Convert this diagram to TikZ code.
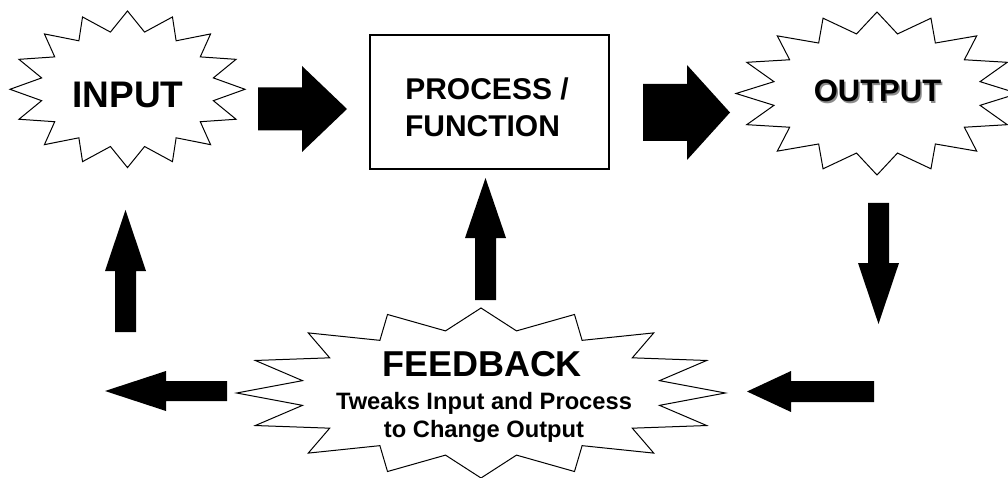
\documentclass[tikz,border=0pt]{standalone}
\usepackage{fontspec}
\setmainfont{Liberation Sans}
\begin{document}
\begin{tikzpicture}[x=1pt,y=-1pt,
  burstline/.style={draw=black,line width=1pt,fill=white,line join=miter},
  boxline/.style={draw=black,line width=1.3pt,fill=white},
  blockfill/.style={fill=black},
  lbl/.style={font=\bfseries,anchor=base,inner sep=0pt,text=black}]
\useasboundingbox (0,0) rectangle (1008,478);
\fill[white] (0,0) rectangle (1008,478);
% starburst: cx cy a b
\newcommand\myburst[4]{%
  \draw[burstline] plot[variable=\k,samples at={0,...,31}]
   ({#1+#3*(1-0.255*mod(\k,2))*cos(90+\k*11.25)},{#2-#4*(1-0.255*mod(\k,2))*sin(90+\k*11.25)}) -- cycle;}
% block arrow: x y rot L H s h
\newcommand\myarrow[7]{%
  \begin{scope}[shift={(#1,#2)},rotate=#3]
   \fill[blockfill] (0,-#6) -- ({#4-#5},-#6) -- ({#4-#5},-#7) -- (#4,0) -- ({#4-#5},#7) -- ({#4-#5},#6) -- (0,#6) -- cycle;
  \end{scope}}
% shapes
\myburst{127.5}{89.3}{117.5}{78.3}
\myburst{877}{93.5}{141}{81.5}
\myburst{481}{393}{244.3}{85}
\node[boxline,minimum width=239pt,minimum height=134pt,inner sep=0pt] (process) at (489.5,102) {};
% arrows
\myarrow{258}{109}{0}{89}{45}{21.5}{43}
\myarrow{643}{112.5}{0}{87}{43}{28.5}{47.5}
\myarrow{878.5}{203}{-90}{121}{61}{10.5}{20.5}
\myarrow{874}{391.5}{180}{127}{44}{10.5}{20.5}
\myarrow{227}{391}{180}{122}{61}{10}{20}
\myarrow{125.5}{332}{90}{122}{61}{10.5}{20.5}
\myarrow{485.5}{300}{90}{122}{60}{10.5}{20.5}
% texts
\node[lbl,font=\bfseries\fontsize{37}{44}\selectfont] (input) at (128,108) {INPUT};
\node[lbl,font=\bfseries\fontsize{31}{37}\selectfont,text=black!45] at (879,103.5) {OUTPUT};
\node[lbl,font=\bfseries\fontsize{31}{37}\selectfont] (output) at (877.5,102) {OUTPUT};
\node[lbl,font=\bfseries\fontsize{30}{37}\selectfont] (proc1) at (487,100) {PROCESS /};
\node[lbl,font=\bfseries\fontsize{30}{37}\selectfont] (proc2) at (482.5,137) {FUNCTION};
\node[lbl,font=\bfseries\fontsize{36}{42}\selectfont] (feedback) at (482,376) {FEEDBACK};
\node[lbl,font=\bfseries\fontsize{23.7}{28}\selectfont] (fb1) at (484,409) {Tweaks Input and Process};
\node[lbl,font=\bfseries\fontsize{23.7}{28}\selectfont] (fb2) at (484,437) {to Change Output};
\end{tikzpicture}
\end{document}
